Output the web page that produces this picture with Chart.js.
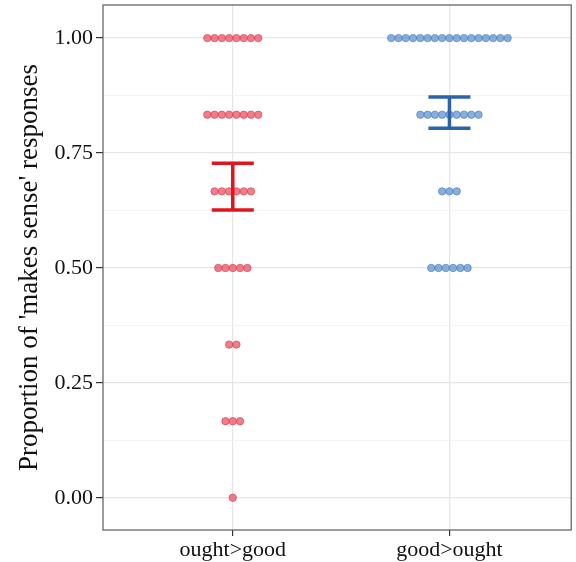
<!DOCTYPE html>
<html>
<head>
<meta charset="utf-8">
<script src="https://cdn.jsdelivr.net/npm/chart.js@4.4.1/dist/chart.umd.min.js"></script>
<style>
  html, body { margin: 0; padding: 0; background: #fff; }
  #wrap { width: 576px; height: 562px; }
</style>
</head>
<body>
<div id="wrap"><canvas id="chart" width="576" height="562"></canvas></div>
<script>
// categorias del eje x
const categories = ['ought>good', 'good>ought'];
// niveles de proporcion (0, 1/6, ..., 1)
const levels = [0, 1 / 6, 2 / 6, 3 / 6, 4 / 6, 5 / 6, 1];
// numero de participantes en cada nivel
const countsOughtGood = [1, 3, 2, 5, 6, 8, 8];
const countsGoodOught = [0, 0, 0, 6, 3, 9, 17];
// barras de error (media +/- se)
const errLow = [0.626, 0.804];
const errHigh = [0.728, 0.872];
const yTicks = [0, 0.25, 0.5, 0.75, 1];

const colorsDots = ['rgba(232, 70, 90, 0.7)', 'rgba(85, 140, 205, 0.7)'];
const colorsDotBorder = ['rgba(220, 50, 70, 0.75)', 'rgba(65, 120, 190, 0.75)'];
const colorsBar = ['#E0141E', '#2B63AD'];

const DOT_STEP = 0.0336; // separacion horizontal entre puntos (unidades de x)
const CAP_HALF = 0.097;

// construir puntos tipo "dotplot" centrados en cada categoria
function buildDots(catIndex, counts) {
  const pts = [];
  counts.forEach((n, i) => {
    for (let k = 0; k < n; k++) {
      pts.push({ x: catIndex + 1 + (k - (n - 1) / 2) * DOT_STEP, y: levels[i] });
    }
  });
  return pts;
}

function errorBarSets(catIndex) {
  const cx = catIndex + 1;
  const base = {
    type: 'line',
    showLine: true,
    borderColor: colorsBar[catIndex],
    borderWidth: 3.5,
    pointRadius: 0,
    fill: false,
    order: 0
  };
  return [
    Object.assign({}, base, { data: [{ x: cx - CAP_HALF, y: errHigh[catIndex] }, { x: cx + CAP_HALF, y: errHigh[catIndex] }] }),
    Object.assign({}, base, { data: [{ x: cx, y: errLow[catIndex] }, { x: cx, y: errHigh[catIndex] }] }),
    Object.assign({}, base, { data: [{ x: cx - CAP_HALF, y: errLow[catIndex] }, { x: cx + CAP_HALF, y: errLow[catIndex] }] })
  ];
}

const allCounts = [countsOughtGood, countsGoodOught];
const datasets = [];
allCounts.forEach((counts, i) => {
  datasets.push({
    type: 'scatter',
    data: buildDots(i, counts),
    backgroundColor: colorsDots[i],
    borderColor: colorsDotBorder[i],
    borderWidth: 0.8,
    pointRadius: 3.7,
    order: 1
  });
  errorBarSets(i).forEach(d => datasets.push(d));
});

// marco gris del panel
const panelBorder = {
  id: 'panelBorder',
  afterDraw(chart) {
    const a = chart.chartArea;
    const ctx = chart.ctx;
    ctx.save();
    ctx.strokeStyle = '#5a5a5a';
    ctx.lineWidth = 1.2;
    ctx.strokeRect(a.left, a.top, a.right - a.left, a.bottom - a.top);
    ctx.restore();
  }
};

const isMajor = v => yTicks.some(t => Math.abs(t - v) < 1e-6);

new Chart(document.getElementById('chart'), {
  type: 'scatter',
  data: { datasets: datasets },
  plugins: [panelBorder],
  options: {
    responsive: false,
    animation: false,
    layout: { padding: { left: 0, right: 4, top: 5, bottom: 0 } },
    plugins: { legend: { display: false }, tooltip: { enabled: false } },
    scales: {
      x: {
        type: 'linear',
        min: 0.401,
        max: 2.562,
        afterBuildTicks: scale => { scale.ticks = categories.map((c, i) => ({ value: i + 1 })); },
        afterFit: scale => { scale.height = 32; scale.paddingLeft = 0; scale.paddingRight = 0; },
        ticks: {
          callback: v => categories[Math.round(v) - 1] || '',
          font: { family: 'Liberation Serif', size: 22 },
          color: '#111',
          padding: 1,
          maxRotation: 0
        },
        grid: {
          color: '#e6e6e6',
          lineWidth: 1.2,
          tickLength: 6,
          tickColor: '#333',
          drawTicks: true
        },
        border: { display: false }
      },
      y: {
        type: 'linear',
        min: -0.07,
        max: 1.072,
        afterBuildTicks: scale => {
          const t = [];
          for (let i = 0; i <= 8; i++) t.push({ value: i * 0.125 });
          scale.ticks = t;
        },
        afterFit: scale => { scale.width = 103; scale.paddingTop = 0; scale.paddingBottom = 0; },
        ticks: {
          callback: v => isMajor(v) ? v.toFixed(2) : '',
          font: { family: 'Liberation Serif', size: 22 },
          color: '#111',
          padding: 3
        },
        grid: {
          color: ctx => isMajor(ctx.tick.value) ? '#e6e6e6' : '#f1f1f1',
          lineWidth: ctx => isMajor(ctx.tick.value) ? 1.2 : 0.8,
          tickLength: 7,
          tickColor: ctx => isMajor(ctx.tick.value) ? '#333' : 'rgba(0,0,0,0)'
        },
        border: { display: false },
        title: {
          display: true,
          text: "Proportion of 'makes sense' responses",
          font: { family: 'Liberation Serif', size: 27 },
          color: '#111',
          padding: { top: 14, bottom: 0 }
        }
      }
    }
  }
});
</script>
</body>
</html>
